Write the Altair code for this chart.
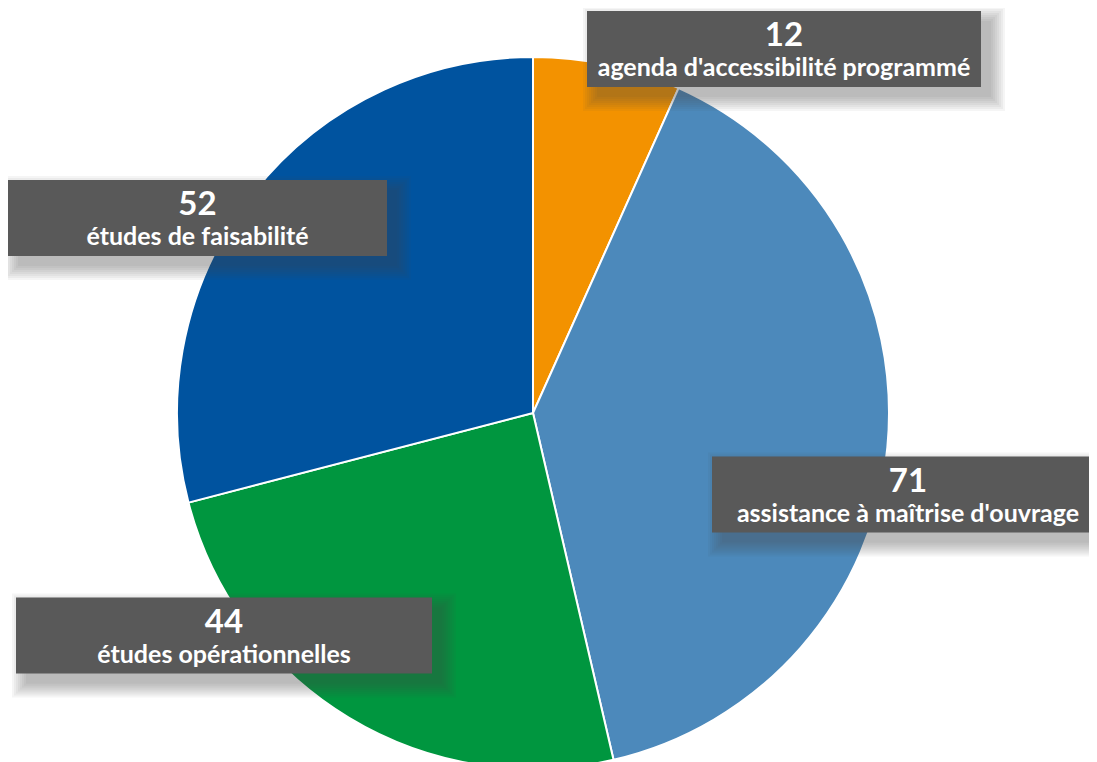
import altair as alt
import pandas as pd

categories = ["agenda d'accessibilité programmé", "assistance à maîtrise d'ouvrage",
              "études opérationnelles", "études de faisabilité"]
values = [12, 71, 44, 52]
colors = ["#F39200", "#4C89BB", "#00963F", "#00539F"]

# layout of the annotation boxes (plot-area pixels): centre x, centre y, width
label_cx = [776, 900, 216, 189.5]
label_cy = [41, 486.5, 627.5, 210]
label_w = [394, 408, 416, 379]
BOX_H = 76

pie_df = pd.DataFrame({"cat": categories, "value": values, "order": list(range(len(values)))})

lab_df = pd.DataFrame({"cat": categories, "value": [str(v) for v in values],
                       "cx": label_cx, "cy": label_cy, "w": label_w})
lab_df["x1"] = lab_df.cx - lab_df.w / 2
lab_df["x2"] = lab_df.cx + lab_df.w / 2
lab_df["y1"] = lab_df.cy - BOX_H / 2
lab_df["y2"] = lab_df.cy + BOX_H / 2
lab_df["ynum"] = lab_df.y1 + 35
lab_df["ylab"] = lab_df.y1 + 65
lab_df.loc[1, "x1"] = 704  # box on the right starts at fixed left edge

pie = alt.Chart(pie_df).mark_arc(outerRadius=356, stroke="white", strokeWidth=2).encode(
    theta=alt.Theta("value:Q", stack=True),
    order=alt.Order("order:Q"),
    color=alt.Color("cat:N", scale=alt.Scale(domain=categories, range=colors), legend=None),
    x=alt.value(525),
    y=alt.value(405),
)

shadow_layers = []
for e in range(0, 16, 2):
    d = lab_df.copy()
    d["sx1"] = d.x1 + 10 - e
    d["sx2"] = d.x2 + 10 + e
    d["sy1"] = d.y1 + 10 - e
    d["sy2"] = d.y2 + 10 + e
    shadow_layers.append(
        alt.Chart(d).mark_rect(color="#404040", opacity=0.055).encode(
            x=alt.X("sx1:Q", scale=None), x2="sx2:Q",
            y=alt.Y("sy1:Q", scale=None), y2="sy2:Q",
        )
    )

boxes = alt.Chart(lab_df).mark_rect(color="#595959").encode(
    x=alt.X("x1:Q", scale=None), x2="x2:Q",
    y=alt.Y("y1:Q", scale=None), y2="y2:Q",
)

num_text = alt.Chart(lab_df).mark_text(font="Lato", fontWeight="bold", fontSize=33,
                                       color="white", align="center", baseline="alphabetic").encode(
    x=alt.X("cx:Q", scale=None), y=alt.Y("ynum:Q", scale=None), text="value:N")

lab_text = alt.Chart(lab_df).mark_text(font="Lato", fontWeight="bold", fontSize=25,
                                       color="white", align="center", baseline="alphabetic").encode(
    x=alt.X("cx:Q", scale=None), y=alt.Y("ylab:Q", scale=None), text="cat:N")

chart = alt.layer(pie, *shadow_layers, boxes, num_text, lab_text).properties(
    width=1081, height=770, padding=0, autosize=alt.AutoSizeParams(type="none")
).configure_view(stroke=None)

chart.save("out.html", embed_options={"renderer": "svg", "actions": False})
